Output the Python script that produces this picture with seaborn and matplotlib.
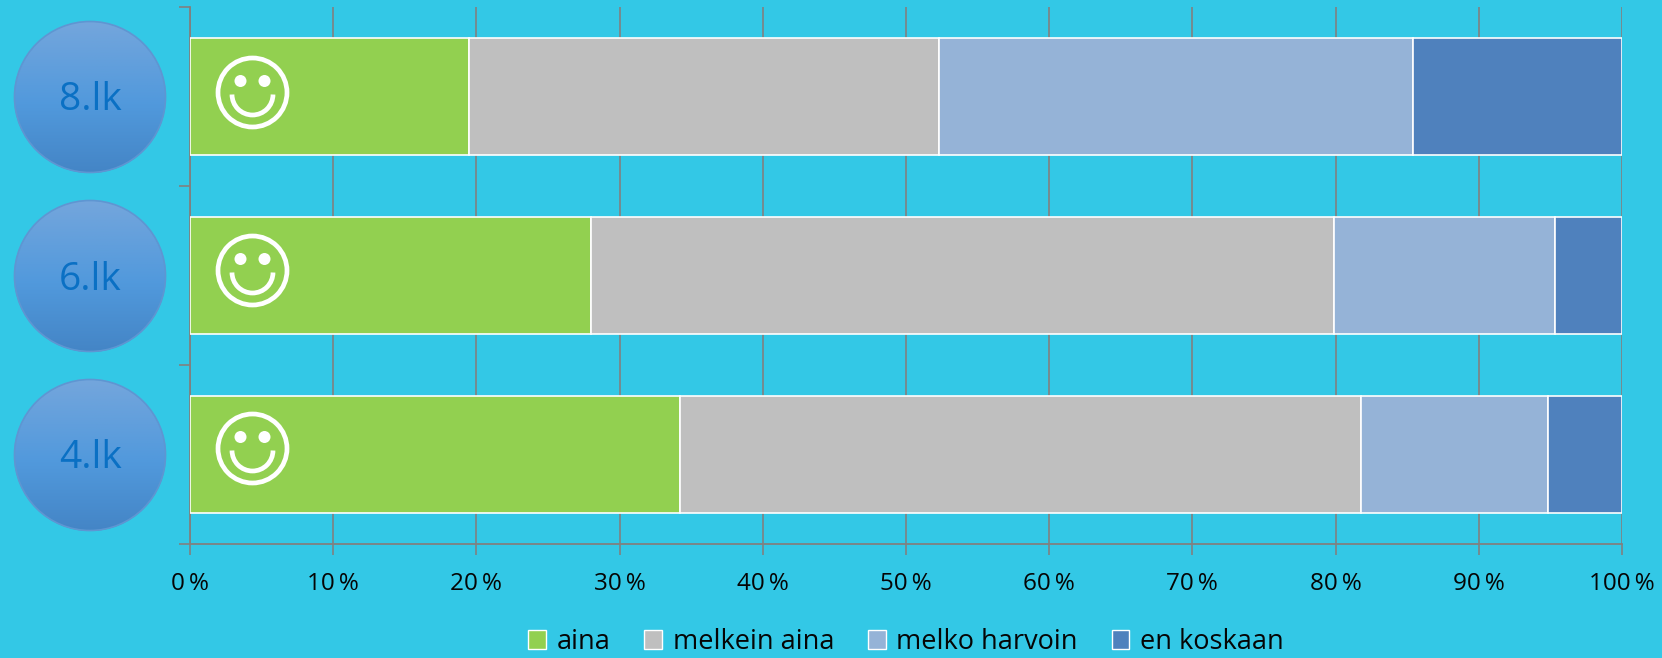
import numpy as np
import pandas as pd
import matplotlib
matplotlib.use("Agg")
import matplotlib.pyplot as plt
from matplotlib.patches import Circle, Arc, Patch
import seaborn as sns

grades = ["8.lk", "6.lk", "4.lk"]
series_names = ["aina", "melkein aina", "melko harvoin", "en koskaan"]
aina = [19.5, 28.0, 34.2]
melkein_aina = [32.8, 51.9, 47.6]
melko_harvoin = [33.1, 15.4, 13.0]
en_koskaan = [14.6, 4.7, 5.2]
tick_values = [0, 10, 20, 30, 40, 50, 60, 70, 80, 90, 100]
tick_labels = [f"{v}\u2009%" for v in tick_values]
colors = ["#92D050", "#BFBFBF", "#95B3D7", "#4F81BD"]
BG = "#33C8E6"
W, H = 1662, 658

sns.set_theme(style="white")
plt.rcParams["font.family"] = ["Open Sans", "DejaVu Sans"]

df = pd.DataFrame({"grade": grades, "aina": aina, "melkein aina": melkein_aina,
                   "melko harvoin": melko_harvoin, "en koskaan": en_koskaan})

fig = plt.figure(figsize=(W / 100, H / 100), dpi=100, facecolor=BG)
L, R, T, B = 190, 1622, 7, 544
ax = fig.add_axes([L / W, 1 - B / H, (R - L) / W, (B - T) / H], facecolor=BG)

left = np.zeros(len(grades))
for name, col in zip(series_names, colors):
    sns.barplot(data=df, y="grade", x=name, order=grades, orient="h", color=col,
                left=left, width=0.658, saturation=1, edgecolor="white",
                linewidth=1.2, ax=ax, zorder=3)
    left = left + df[name].to_numpy()

ax.set_xlim(0, 100)
ax.set_ylim(2.5, -0.5)
ax.set_xlabel("")
ax.set_ylabel("")
ax.set_xticks(tick_values)
ax.set_xticklabels(tick_labels, fontsize=17.5, color="#050505")
ax.set_yticks([-0.5, 0.5, 1.5, 2.5])
ax.set_yticklabels([])
ax.grid(axis="x", color="#808080", linewidth=1.2, zorder=0)
ax.set_axisbelow(True)
ax.tick_params(axis="both", length=8, width=1.2, color="#808080", pad=12,
               bottom=True, left=True)
for side in ("top", "right"):
    ax.spines[side].set_visible(False)
for side in ("left", "bottom"):
    ax.spines[side].set_visible(True)
    ax.spines[side].set_color("#808080")
    ax.spines[side].set_linewidth(1.3)

# Overlay in pixel coordinates: grade badges and smileys
ov = fig.add_axes([0, 0, 1, 1], facecolor="none")
ov.set_xlim(0, W)
ov.set_ylim(H, 0)
ov.axis("off")
grad = np.linspace(0, 1, 128)[:, None]
top_c = np.array(matplotlib.colors.to_rgb("#74A6DC"))
mid_c = np.array(matplotlib.colors.to_rgb("#5199DC"))
bot_c = np.array(matplotlib.colors.to_rgb("#4485C6"))
img = np.where(grad[..., None] < 0.55,
               top_c + (mid_c - top_c) * grad[..., None] / 0.55,
               mid_c + (bot_c - mid_c) * (grad[..., None] - 0.55) / 0.45)
for i, g in enumerate(grades):
    cy = 97 + i * 179.0
    im = ov.imshow(img, extent=(14, 166, cy + 76, cy - 76), aspect="auto", zorder=2)
    clip = Circle((90, cy), 76, transform=ov.transData)
    im.set_clip_path(clip)
    ov.add_patch(Circle((90, cy), 75.5, fill=False, ec="#5E96D2", lw=1.2, zorder=3))
    ov.text(90, cy + 3.5, g, ha="center", va="center", fontsize=28, color="#0A70C4", zorder=4)
    sy = 92.5 + i * 178
    sx = 252.5
    ov.add_patch(Circle((sx, sy), 34.5, fill=False, ec="white", lw=3.4, zorder=5))
    ov.add_patch(Circle((sx - 12, sy - 11.5), 6, fc="white", ec="none", zorder=5))
    ov.add_patch(Circle((sx + 12, sy - 11.5), 6, fc="white", ec="none", zorder=5))
    ov.add_patch(Arc((sx, sy + 2), 41, 41, theta1=0, theta2=180, ec="white", lw=3.4, zorder=5))
ov.set_xlim(0, W)
ov.set_ylim(H, 0)

handles = [Patch(fc=c, ec="white", lw=1.0, label=n) for c, n in zip(colors, series_names)]
fig.legend(handles=handles, loc="center", bbox_to_anchor=(906 / W, 1 - 642 / H), ncol=4,
           frameon=False, fontsize=19.5, handlelength=0.65, handleheight=0.7,
           handletextpad=0.4, columnspacing=1.25, labelcolor="#050505")

fig.savefig("out.png", dpi=100, facecolor=BG)
